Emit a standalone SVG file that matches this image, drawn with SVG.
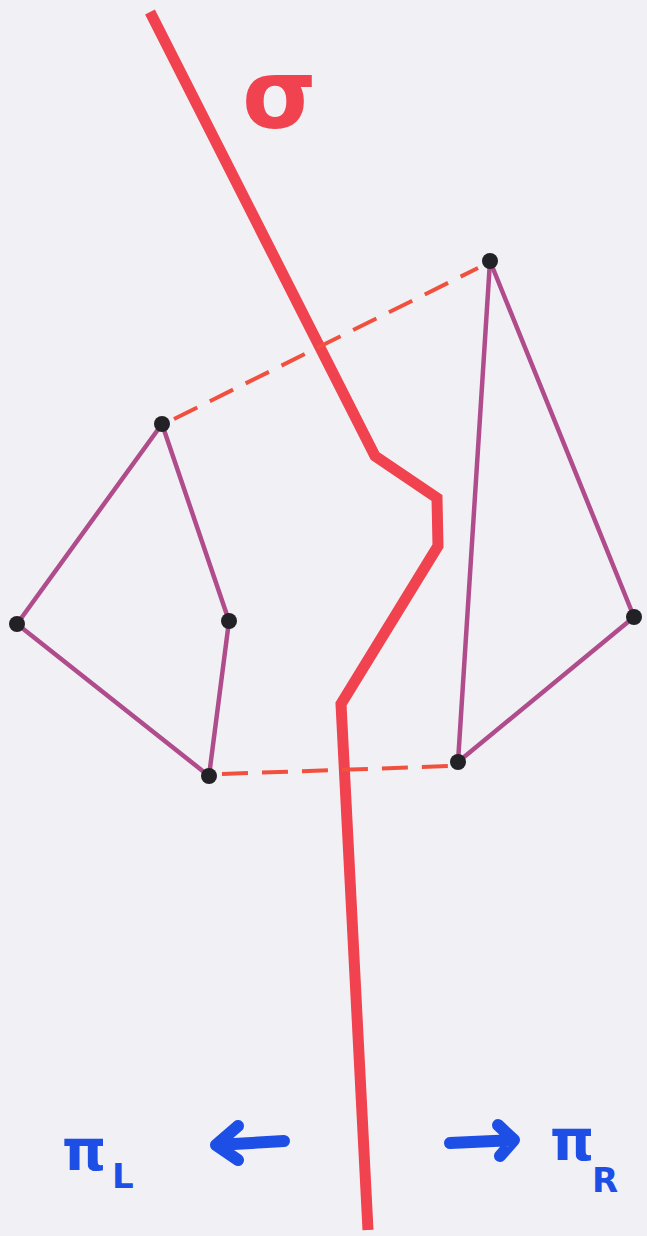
<svg xmlns="http://www.w3.org/2000/svg" width="647" height="1236" viewBox="0 0 647 1236">
<style>
.cut{fill:none;stroke:#f0424f;stroke-width:11;stroke-linejoin:miter;stroke-linecap:butt}
.edge{stroke:#b04c8c;stroke-width:4.5;stroke-linecap:round}
.dash{stroke:#f2503e;stroke-width:4;stroke-dasharray:26 14}
.pt{fill:#222226}
.blue{fill:#1d4fe6;font-family:"DejaVu Sans",sans-serif;font-weight:bold}
.arr{fill:none;stroke:#1d4fe6;stroke-width:12;stroke-linecap:round;stroke-linejoin:round}
</style>
<rect width="647" height="1236" fill="#f1f1f5"/>
<g id="cut">
<polyline class="cut" points="150,12 375,456 437,498 438,546 341,704 368,1230"/>
<text x="242" y="128" font-family="DejaVu Sans,sans-serif" font-weight="bold" font-size="96" fill="#f0424f">σ</text>
</g>
<g id="connectors">
<line class="dash" x1="174" y1="419" x2="478" y2="268"/>
<line class="dash" x1="222" y1="774" x2="450" y2="766"/>
<line class="edge" x1="162" y1="424" x2="17" y2="624"/>
<line class="edge" x1="162" y1="424" x2="229" y2="621"/>
<line class="edge" x1="17" y1="624" x2="209" y2="776"/>
<line class="edge" x1="229" y1="621" x2="209" y2="776"/>
<line class="edge" x1="490" y1="261" x2="634" y2="617"/>
<line class="edge" x1="490" y1="261" x2="458" y2="762"/>
<line class="edge" x1="634" y1="617" x2="458" y2="762"/>
</g>
<g id="left-polygon">
<circle class="pt" cx="162" cy="424" r="8"/>
<circle class="pt" cx="17" cy="624" r="8"/>
<circle class="pt" cx="229" cy="621" r="8"/>
<circle class="pt" cx="209" cy="776" r="8"/>
</g>
<g id="right-polygon">
<circle class="pt" cx="490" cy="261" r="8"/>
<circle class="pt" cx="634" cy="617" r="8"/>
<circle class="pt" cx="458" cy="762" r="8"/>
</g>
<g id="pi-L">
<text class="blue" x="62" y="1170" font-size="56">π</text>
<text class="blue" x="112" y="1188" font-size="34">L</text>
</g>
<g id="arrow-L">
<path class="arr" d="M284,1141 L216,1145 M238,1126 L216,1145 L238,1160"/>
</g>
<g id="arrow-R">
<path class="arr" d="M450,1143 L514,1140 M498,1125 L514,1140 L500,1156"/>
</g>
<g id="pi-R">
<text class="blue" x="550" y="1160" font-size="56">π</text>
<text class="blue" x="592" y="1192" font-size="34">R</text>
</g>
</svg>
